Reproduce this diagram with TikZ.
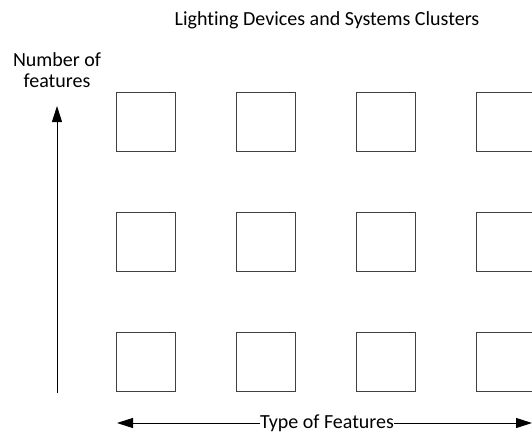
\documentclass[tikz,border=0pt]{standalone}
\usepackage{fontspec}
\setmainfont{Carlito}[Ligatures=NoCommon]
\usetikzlibrary{arrows.meta}
\tikzset{
  cluster/.style={draw=black!75,line width=1pt,minimum width=59pt,minimum height=59pt,inner sep=0pt},
  axisarrow/.style={draw=black,line width=1pt,-{Triangle[length=16pt,width=10pt]}},
  axislabel/.style={font=\fontsize{20}{21}\selectfont,inner sep=0pt}
}
\begin{document}
\begin{tikzpicture}[x=1pt,y=-1pt]
  \useasboundingbox (0,0) rectangle (532,433);
  \node[axislabel] (title) at (327,20) {Lighting Devices and Systems Clusters};
  % grid of clusters
  \foreach \col/\x in {1/146,2/266,3/386,4/506}
    \foreach \row/\y in {1/122,2/242,3/362}
      \node[cluster] (c\row\col) at (\x,\y) {};
  % number of features axis
  \node[axislabel,align=center] (numfeat) at (57,70) {Number of\\features};
  \coordinate (vbottom) at (57,393);
  \coordinate (vtop) at (57,106);
  \draw[axisarrow] (vbottom) -- (vtop);
  % type of features axis
  \node[axislabel] (typefeat) at (327,423) {Type of Features};
  \coordinate (hleft) at (117,423);
  \coordinate (hright) at (532,423);
  \draw[axisarrow] (typefeat.west) -- (hleft);
  \draw[axisarrow] (typefeat.east) -- (hright);
\end{tikzpicture}
\end{document}
